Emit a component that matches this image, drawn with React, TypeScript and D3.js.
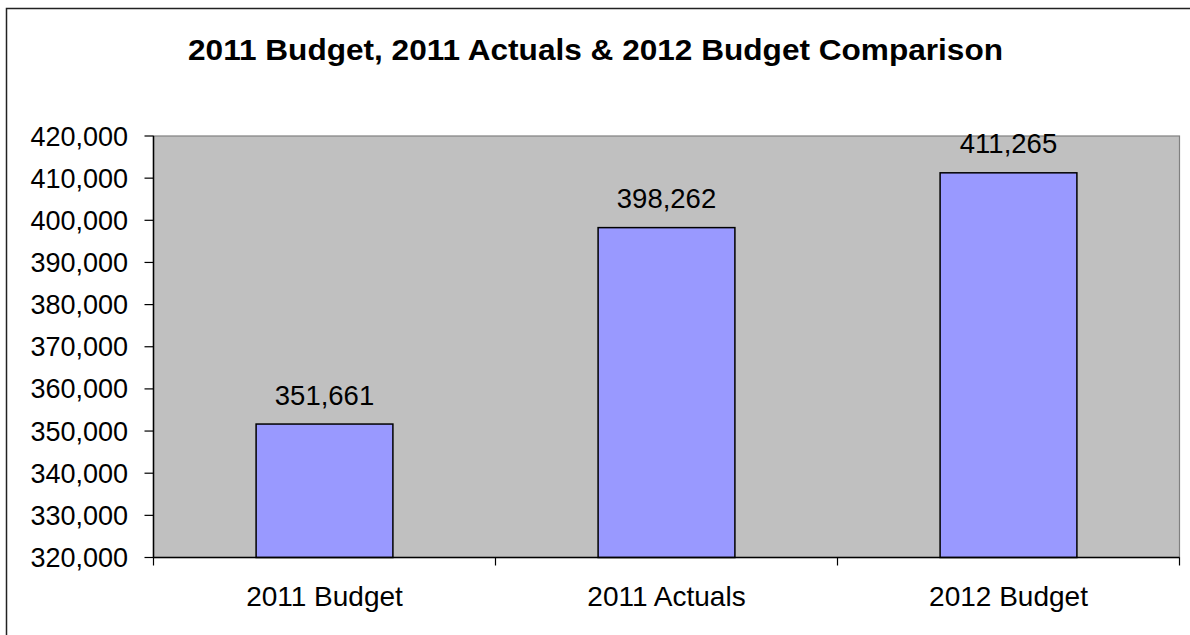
import React from "react";
import * as d3 from "d3";

const categories = ["2011 Budget", "2011 Actuals", "2012 Budget"];
const values = [351661, 398262, 411265];
const yTicks = [320000, 330000, 340000, 350000, 360000, 370000, 380000, 390000, 400000, 410000, 420000];
const title = "2011 Budget, 2011 Actuals & 2012 Budget Comparison";

const W = 1190;
const H = 635;
const plot = { left: 153.5, right: 1179.5, top: 136, bottom: 557.5 };
const font = "'Liberation Sans', Arial, sans-serif";

export default function App() {
  const x = d3
    .scaleBand<string>()
    .domain(categories)
    .range([plot.left, plot.right])
    .paddingInner(0.6)
    .paddingOuter(0.3);
  const y = d3.scaleLinear().domain([320000, 420000]).range([plot.bottom, plot.top]);
  const fmt = d3.format(",");
  const step = (plot.right - plot.left) / categories.length;
  const catTicks = d3.range(categories.length + 1).map((i) => plot.left + i * step);

  return (
    <svg width={W} height={H} style={{ position: "absolute", left: 0, top: 0 }}>
      <rect x={0} y={0} width={W} height={H} fill="#ffffff" />
      <rect x={6.5} y={8.5} width={W + 10} height={H + 10} fill="#ffffff" stroke="#222" strokeWidth={1.5} />
      <text
        x={595.5}
        y={60}
        textAnchor="middle"
        fontFamily={font}
        fontWeight="bold"
        fontSize={29.5}
        fill="#000"
        textLength={815}
        lengthAdjust="spacingAndGlyphs"
      >
        {title}
      </text>
      <rect
        x={plot.left}
        y={plot.top}
        width={plot.right - plot.left}
        height={plot.bottom - plot.top}
        fill="#C0C0C0"
        stroke="#808080"
        strokeWidth={1.2}
      />
      {categories.map((c, i) => (
        <g key={c}>
          <rect
            x={x(c)}
            y={y(values[i])}
            width={x.bandwidth()}
            height={plot.bottom - y(values[i])}
            fill="#9999FF"
            stroke="#000"
            strokeWidth={1.5}
          />
          <text
            x={(x(c) as number) + x.bandwidth() / 2}
            y={y(values[i]) - 19.5}
            textAnchor="middle"
            fontFamily={font}
            fontSize={27.5}
            fill="#000"
          >
            {fmt(values[i])}
          </text>
          <text
            x={(x(c) as number) + x.bandwidth() / 2}
            y={605.5}
            textAnchor="middle"
            fontFamily={font}
            fontSize={28}
            fill="#000"
          >
            {c}
          </text>
        </g>
      ))}
      {/* y axis */}
      <line x1={plot.left} x2={plot.left} y1={plot.top} y2={plot.bottom} stroke="#000" strokeWidth={1.5} />
      {yTicks.map((t) => (
        <g key={t}>
          <line x1={144.5} x2={plot.left} y1={y(t)} y2={y(t)} stroke="#000" strokeWidth={1.2} />
          <text x={128} y={y(t) + 9.5} textAnchor="end" fontFamily={font} fontSize={27} fill="#000">
            {fmt(t)}
          </text>
        </g>
      ))}
      {/* x axis */}
      <line x1={plot.left} x2={plot.right} y1={plot.bottom} y2={plot.bottom} stroke="#000" strokeWidth={1.5} />
      {catTicks.map((t, i) => (
        <line key={i} x1={t} x2={t} y1={plot.bottom} y2={plot.bottom + 8} stroke="#000" strokeWidth={1.2} />
      ))}
    </svg>
  );
}
